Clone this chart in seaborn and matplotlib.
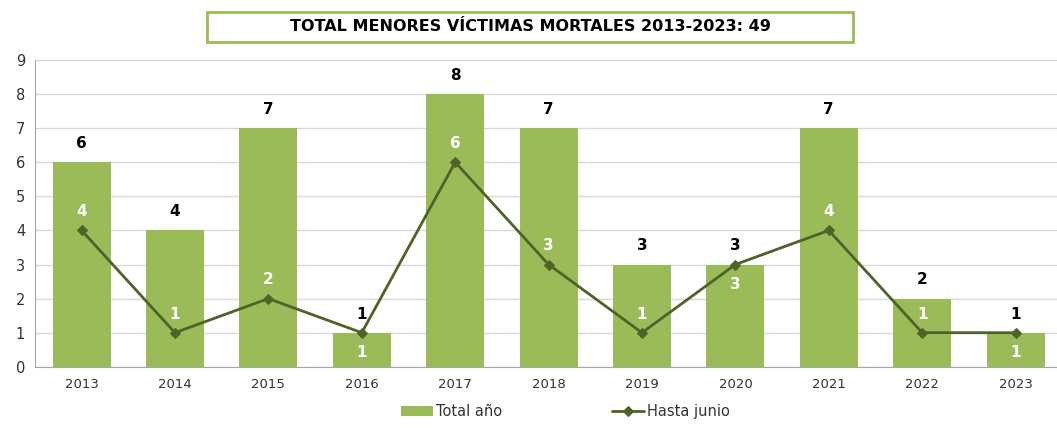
import pandas as pd
import seaborn as sns
import matplotlib.pyplot as plt
from matplotlib.ticker import MultipleLocator
from matplotlib.patches import Rectangle

# datos
anios = ['2013', '2014', '2015', '2016', '2017', '2018', '2019', '2020', '2021', '2022', '2023']
total_anio = [6, 4, 7, 1, 8, 7, 3, 3, 7, 2, 1]
hasta_junio = [4, 1, 2, 1, 6, 3, 1, 3, 4, 1, 1]
# etiquetas de junio debajo del punto en estos años
debajo = ['2016', '2020', '2023']

verde = '#9BBB59'
oscuro = '#4F6228'

df = pd.DataFrame({'anio': anios, 'total': total_anio, 'junio': hasta_junio})

sns.set_style('white')
plt.rcParams['font.family'] = ['DejaVu Sans']

fig = plt.figure(figsize=(10.57, 4.28), dpi=100)
ax = fig.add_axes([0.033, 0.143, 0.972, 0.717])

sns.barplot(x='anio', y='total', data=df, color=verde, width=0.62,
            saturation=1, linewidth=0, label='Total año', ax=ax, zorder=2)
sns.lineplot(x='anio', y='junio', data=df, color=oscuro, marker='D',
             markersize=5, markeredgecolor=oscuro, linewidth=2,
             label='Hasta junio', ax=ax, zorder=3)

# etiquetas
for i, (a, t, j) in enumerate(zip(anios, total_anio, hasta_junio)):
    ax.annotate(str(t), (i, t), xytext=(0, 8), textcoords='offset points',
                ha='center', va='bottom', fontsize=11, fontweight='bold', color='black')
    if a in debajo:
        ax.annotate(str(j), (i, j), xytext=(0, -9), textcoords='offset points',
                    ha='center', va='top', fontsize=11, fontweight='bold', color='white')
    else:
        ax.annotate(str(j), (i, j), xytext=(0, 8), textcoords='offset points',
                    ha='center', va='bottom', fontsize=11, fontweight='bold', color='white')

ax.set_ylim(0, 9)
ax.set_xlim(-0.5, 10.5)
ax.yaxis.set_major_locator(MultipleLocator(1))
ax.grid(axis='y', color='#D9D9D9', linewidth=1, zorder=0)
ax.set_axisbelow(True)
ax.set_xlabel('')
ax.set_ylabel('')

for s in ['top', 'right']:
    ax.spines[s].set_visible(False)
for s in ['left', 'bottom']:
    ax.spines[s].set_color('#A6A6A6')

ax.tick_params(axis='x', which='major', length=0, labelsize=9.5, pad=8, labelcolor='#333333')
ax.set_xticks([i + 0.5 for i in range(-1, 11)], minor=True)
ax.tick_params(axis='x', which='minor', length=5, color='#A6A6A6')
ax.tick_params(axis='y', length=4, color='#A6A6A6', labelsize=10.5, pad=3, labelcolor='#333333')

ax.legend_.remove()
h, l = ax.get_legend_handles_labels()
orden = [l.index('Total año'), l.index('Hasta junio')]
fig.legend([h[k] for k in orden], [l[k] for k in orden], loc='lower center',
           bbox_to_anchor=(0.535, -0.01), ncol=2, frameon=False, fontsize=10.5,
           columnspacing=7.5, handlelength=2.2, handletextpad=0.2, labelcolor='#333333')

# recuadro del título
fig.patches.append(Rectangle((0.196, 0.902), 0.611, 0.07, transform=fig.transFigure,
                             facecolor='white', edgecolor=verde, linewidth=2))
fig.text(0.502, 0.937, 'TOTAL MENORES VÍCTIMAS MORTALES 2013-2023: 49',
         ha='center', va='center', fontsize=11.5, fontweight='bold', color='black')

fig.savefig('out.png', dpi=100)
